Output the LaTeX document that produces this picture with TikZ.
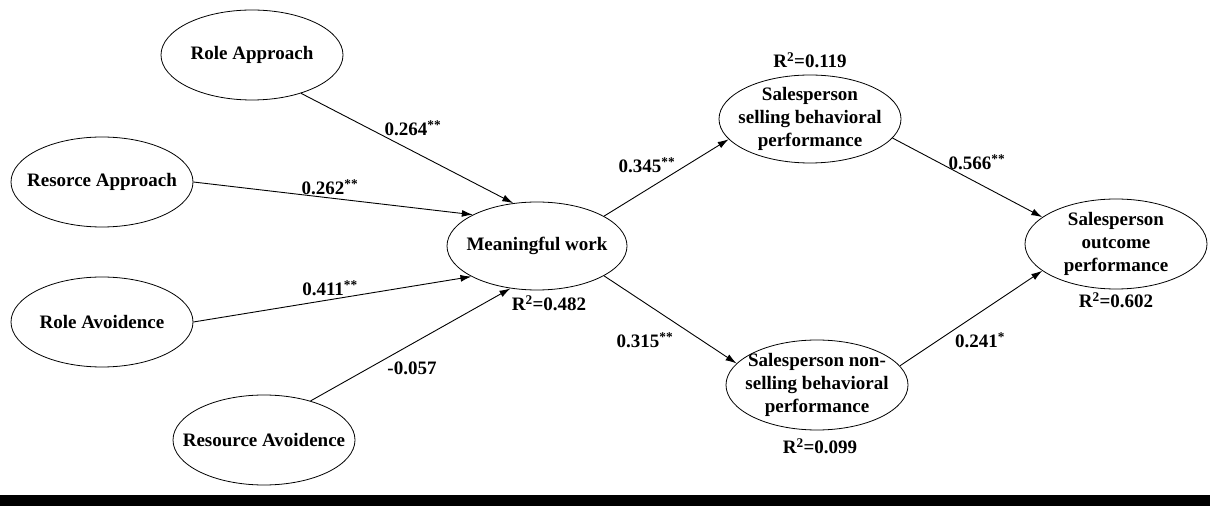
\documentclass[tikz,border=0pt]{standalone}
\usepackage{fontspec}
\setmainfont{Liberation Serif}
\usepackage{tikz}
\usetikzlibrary{shapes,arrows.meta}

\begin{document}
\begin{tikzpicture}[x=1pt,y=1pt,
		construct/.style={draw,ellipse,line width=0.8pt,minimum width=182pt,minimum height=90pt,inner sep=-30pt,align=center},
		coef/.style={inner sep=0pt},
		path/.style={line width=0.9pt,-{Latex[length=11pt,width=7pt]}},
		every node/.style={font=\bfseries\fontsize{19}{23}\selectfont}]
			\useasboundingbox (0,0) rectangle (1210,506);
			\fill[black] (0,0) rectangle (1210,11);
			\node[construct] (ra) at (252,451) {Role Approach};
			\node[construct] (rsa) at (102,324) {Resorce Approach};
			\node[construct] (rav) at (102,184) {Role Avoidence};
			\node[construct] (rsav) at (264,66) {Resource Avoidence};
			\node[construct,minimum width=180pt,minimum height=88pt] (mw) at (537,260) {Meaningful work};
			\node[construct,minimum height=88pt] (sell) at (810,387) {Salesperson\\selling behavioral\\performance};
			\node[construct] (nonsell) at (817,121) {Salesperson non-\\selling behavioral\\performance};
			\node[construct] (outc) at (1116,262) {Salesperson\\outcome\\performance};
			\draw[path] (ra.-38) -- (mw.119);
			\draw[path] (rsa.0) -- (mw.154);
			\draw[path] (rav.0) -- (mw.205);
			\draw[path] (rsav.40) -- (mw.238);
			\draw[path] (mw.24) -- (sell.194);
			\draw[path] (mw.-24) -- (nonsell.165);
			\draw[path] (sell.-13) -- (outc.160);
			\draw[path] (nonsell.13) -- (outc.200);
			\node[coef] (c1) at (413,378) {0.264\textsuperscript{**}};
			\node[coef] (c2) at (330,319) {0.262\textsuperscript{**}};
			\node[coef] (c3) at (330,218) {0.411\textsuperscript{**}};
			\node[coef] (c4) at (412,138) {-0.057};
			\node[coef] (c5) at (647,341) {0.345\textsuperscript{**}};
			\node[coef] (c6) at (645,166) {0.315\textsuperscript{**}};
			\node[coef] (c7) at (977,344) {0.566\textsuperscript{**}};
			\node[coef] (c8) at (980,166) {0.241\textsuperscript{*}};
			\node[coef] (r1) at (549,203) {R\textsuperscript{2}=0.482};
			\node[coef] (r2) at (810,446) {R\textsuperscript{2}=0.119};
			\node[coef] (r3) at (820,60) {R\textsuperscript{2}=0.099};
			\node[coef] (r4) at (1116,206) {R\textsuperscript{2}=0.602};
		\end{tikzpicture}
\end{document}
